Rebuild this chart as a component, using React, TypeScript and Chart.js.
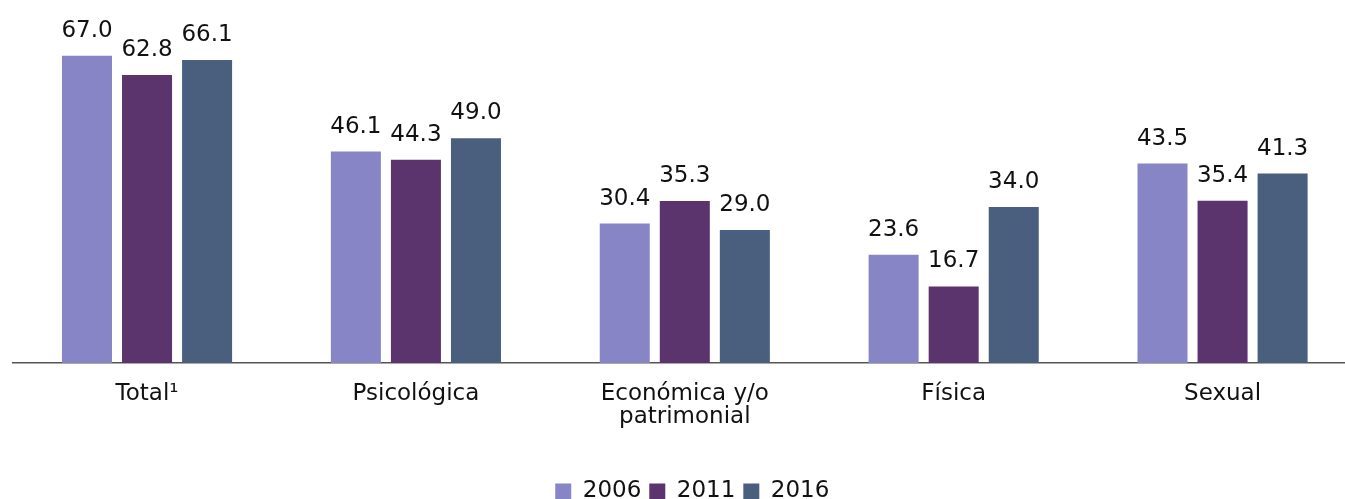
import React, { useEffect, useRef } from "react";
import { Chart, registerables } from "chart.js";

Chart.register(...registerables);

const categories: (string | string[])[] = ["Total¹", "Psicológica", ["Económica y/o", "patrimonial"], "Física", "Sexual"];
const years = ["2006", "2011", "2016"];
const s2006 = [67.0, 46.1, 30.4, 23.6, 43.5];
const s2011 = [62.8, 44.3, 35.3, 16.7, 35.4];
const s2016 = [66.1, 49.0, 29.0, 34.0, 41.3];
const colors = ["#8885C6", "#5B336D", "#4A5E7E"];

const FONT = "'DejaVu Sans', sans-serif";

const valueLabels = {
  id: "valueLabels",
  afterDatasetsDraw(chart: any) {
    const ctx = chart.ctx;
    ctx.save();
    ctx.font = `23px ${FONT}`;
    ctx.fillStyle = "#111";
    ctx.textAlign = "center";
    ctx.textBaseline = "alphabetic";
    chart.data.datasets.forEach((ds: any, i: number) => {
      const meta = chart.getDatasetMeta(i);
      meta.data.forEach((bar: any, j: number) => {
        const v = ds.data[j] as number;
        ctx.fillText(v.toFixed(1), bar.x, bar.y - 19);
      });
    });
    ctx.restore();
  },
};

export default function App() {
  const ref = useRef<HTMLCanvasElement>(null);
  useEffect(() => {
    if (!ref.current) return;
    const chart = new Chart(ref.current, {
      type: "bar",
      data: {
        labels: categories as any,
        datasets: [s2006, s2011, s2016].map((d, i) => ({
          label: years[i],
          data: d,
          backgroundColor: colors[i],
          borderWidth: 0,
          categoryPercentage: 0.67,
          barPercentage: 0.833,
        })),
      },
      options: {
        animation: false,
        responsive: false,
        maintainAspectRatio: false,
        layout: { padding: { left: 12.6, top: 42, right: 0, bottom: -14 } },
        scales: {
          x: {
            grid: { display: false, drawTicks: false },
            border: { display: true, color: "#555", width: 1.5 },
            ticks: {
              padding: 20,
              color: "#111",
              font: { family: FONT, size: 23, lineHeight: 1.0 },
              maxRotation: 0,
              autoSkip: false,
            },
            afterFit: (s: any) => {
              s.height += 23;
            },
          },
          y: {
            position: "right",
            min: 0,
            max: 70,
            grid: { display: false, drawTicks: false },
            border: { display: false },
            ticks: { display: false },
            afterFit: (s: any) => {
              s.width = 15;
            },
          },
        },
        plugins: {
          legend: {
            position: "bottom",
            labels: {
              boxWidth: 16,
              boxHeight: 16,
              padding: 8,
              color: "#111",
              font: { family: FONT, size: 23 },
            },
          },
          tooltip: { enabled: false },
        },
      },
      plugins: [valueLabels],
    });
    return () => chart.destroy();
  }, []);
  return (
    <div style={{ position: "absolute", left: 0, top: 0, width: 1345, height: 499, overflow: "hidden", background: "#fff" }}>
      <canvas ref={ref} width={1372} height={499} style={{ display: "block" }} />
    </div>
  );
}
